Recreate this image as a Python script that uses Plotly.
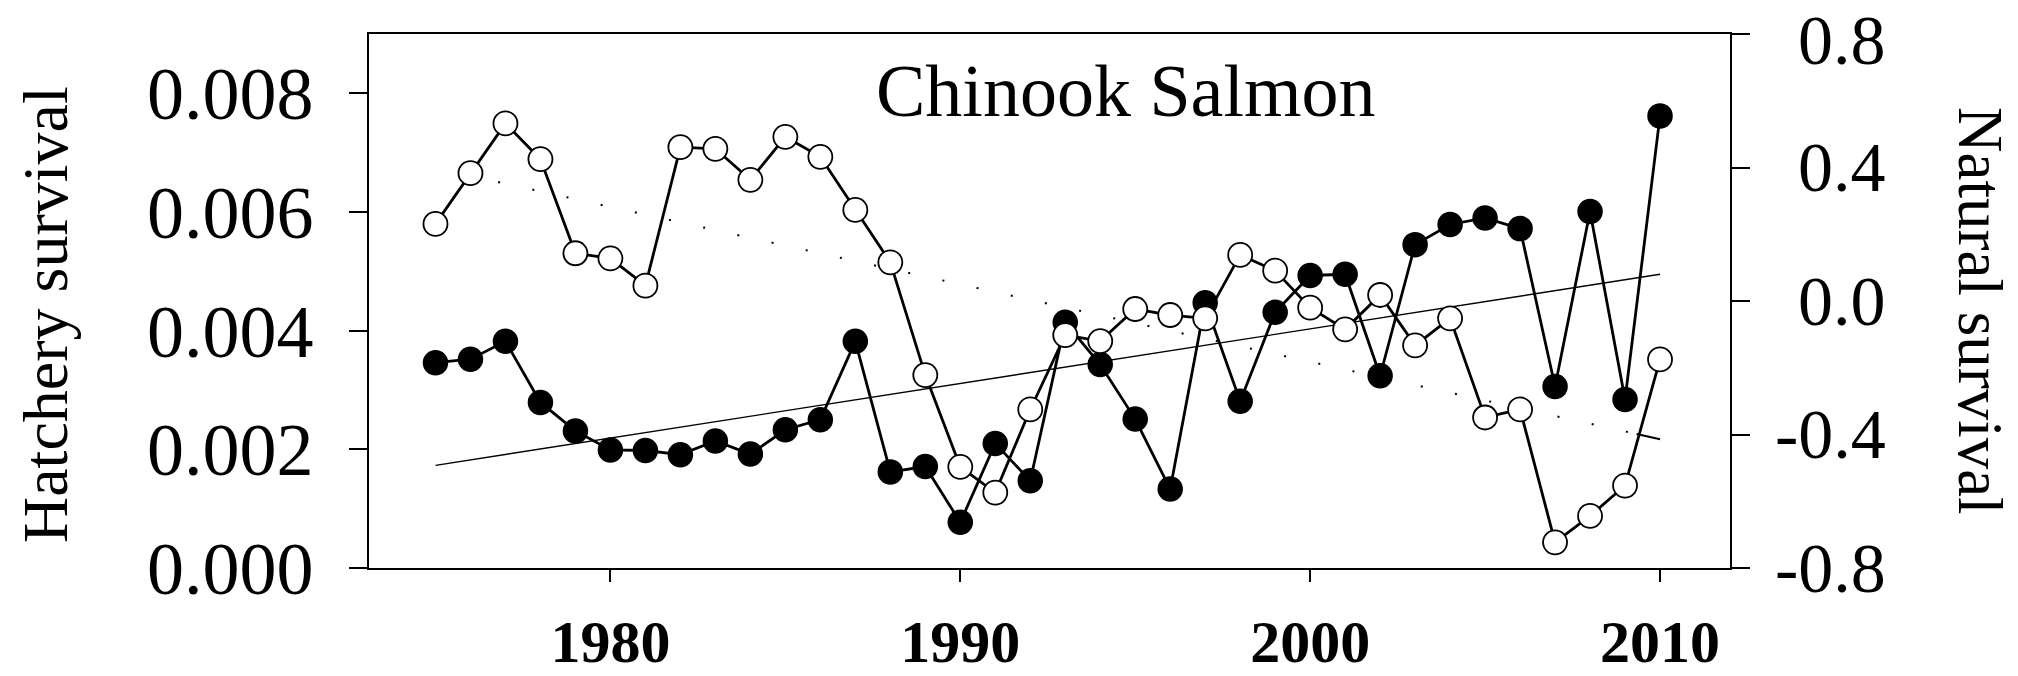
import plotly.graph_objects as go

# ---- data ----
years = list(range(1975, 2011))
hatchery_survival = [0.00346, 0.00352, 0.00382, 0.00279, 0.00231, 0.00199, 0.00198, 0.00191,
                     0.00214, 0.00192, 0.00233, 0.00250, 0.00382, 0.00162, 0.00171, 0.00077,
                     0.00210, 0.00147, 0.00414, 0.00343, 0.00251, 0.00133, 0.00447, 0.00281,
                     0.00431, 0.00493, 0.00495, 0.00324, 0.00545, 0.00579, 0.00590, 0.00572,
                     0.00306, 0.00601, 0.00284, 0.00762]
natural_survival = [0.231, 0.383, 0.532, 0.425, 0.143, 0.128, 0.046, 0.461, 0.456, 0.363,
                    0.492, 0.432, 0.273, 0.116, -0.222, -0.497, -0.574, -0.325, -0.102, -0.120,
                    -0.024, -0.042, -0.052, 0.138, 0.091, -0.020, -0.085, 0.018, -0.133, -0.052,
                    -0.349, -0.325, -0.723, -0.644, -0.553, -0.175]
trend_years = [1975, 2010]
hatchery_trend = [0.00173, 0.00495]
natural_trend = [0.398, -0.414]

x_ticks = [1980, 1990, 2000, 2010]
left_ticks = [0.000, 0.002, 0.004, 0.006, 0.008]
right_ticks = [-0.8, -0.4, 0.0, 0.4, 0.8]
right_tick_labels = ["-0.8", "-0.4", "0.0", "0.4", "0.8"]

title_text = "Chinook Salmon"
left_title = "Hatchery survival"
right_title = "Natural survival"

# ---- styling ----
FONT = "Liberation Serif"
W, H = 2018, 676
ML, MR, MT, MB = 369, 288, 34, 108
PW = W - ML - MR
PH = H - MT - MB


def px_x(p):
    return (p - ML) / PW


def px_y(p):
    return (H - MB - p) / PH


dot_dash = "24px,9px," + ",".join(["2px,33px"] * 36) + ",2000px"

fig = go.Figure()

fig.add_trace(go.Scatter(x=trend_years, y=hatchery_trend, mode="lines",
                         line=dict(color="black", width=1.4), yaxis="y",
                         showlegend=False, hoverinfo="skip"))
fig.add_trace(go.Scatter(x=years, y=hatchery_survival, mode="lines+markers",
                         line=dict(color="black", width=2.8),
                         marker=dict(size=24, color="black", line=dict(color="black", width=1.5)),
                         yaxis="y", showlegend=False))
fig.add_trace(go.Scatter(x=trend_years[::-1], y=natural_trend[::-1], mode="lines",
                         line=dict(color="black", width=2, dash=dot_dash), yaxis="y2",
                         showlegend=False, hoverinfo="skip"))
fig.add_trace(go.Scatter(x=years, y=natural_survival, mode="lines+markers",
                         line=dict(color="black", width=2.8),
                         marker=dict(size=24, color="white", line=dict(color="black", width=1.8)),
                         yaxis="y2", showlegend=False))

annotations = [
    dict(text=title_text, xref="paper", yref="paper", x=px_x(1126), y=px_y(91),
         xanchor="center", yanchor="middle", showarrow=False,
         font=dict(family=FONT, size=74, color="black")),
    dict(text=left_title, xref="paper", yref="paper", x=px_x(45), y=px_y(315),
         xanchor="center", yanchor="middle", showarrow=False, textangle=-90,
         font=dict(family=FONT, size=64, color="black")),
    dict(text=right_title, xref="paper", yref="paper", x=px_x(1980), y=px_y(311),
         xanchor="center", yanchor="middle", showarrow=False, textangle=90,
         font=dict(family=FONT, size=63, color="black")),
]
for v, t in zip(right_ticks, right_tick_labels):
    annotations.append(dict(text=t, xref="paper", yref="y2", x=px_x(1888), y=v,
                            xanchor="right", yanchor="middle", showarrow=False,
                            yshift=(-6 if v == max(right_ticks) else 0),
                            font=dict(family=FONT, size=70, color="black")))

fig.update_layout(
    width=W, height=H,
    margin=dict(l=ML, r=MR, t=MT, b=MB, pad=0, autoexpand=False),
    paper_bgcolor="white", plot_bgcolor="white",
    font=dict(family=FONT, color="black"),
    xaxis=dict(range=[1973.1, 2012.0], tickvals=x_ticks, ticks="outside", ticklen=12,
               tickwidth=1.5, tickcolor="black", showline=True, linecolor="black",
               linewidth=1.5, mirror=True, showgrid=False, zeroline=False,
               ticklabelstandoff=8, automargin=False,
               tickfont=dict(family=FONT, size=60, color="black", weight="bold")),
    yaxis=dict(range=[0, 0.009], tickvals=left_ticks, tickformat=".3f", ticks="outside",
               ticklen=18, tickwidth=1.5, tickcolor="black", showline=True,
               linecolor="black", linewidth=1.5, mirror=True, showgrid=False,
               zeroline=False, ticklabelstandoff=21, automargin=False,
               tickfont=dict(family=FONT, size=74, color="black")),
    yaxis2=dict(range=[-0.8, 0.8], tickvals=right_ticks, overlaying="y", side="right",
                ticks="outside", ticklen=18, tickwidth=1.5, tickcolor="black",
                showticklabels=False, showline=True, linecolor="black", linewidth=1.5,
                showgrid=False, zeroline=False, automargin=False),
    annotations=annotations,
)

fig.write_html("out.html", config={"displayModeBar": False},
               post_script="document.body.style.margin='0';document.body.style.overflow='hidden';")
